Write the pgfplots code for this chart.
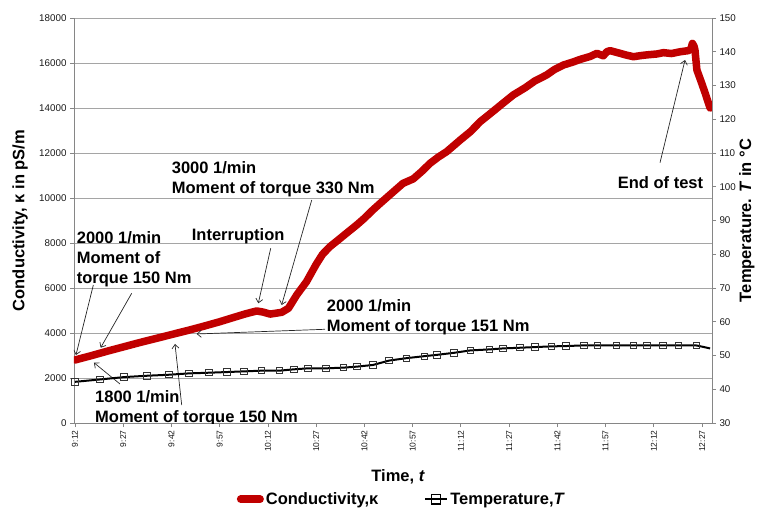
\documentclass[border=0pt]{standalone}
\usepackage{pgfplots}
\pgfplotsset{compat=1.18}
\usepackage{fontspec}
\setmainfont{Liberation Sans}
\usetikzlibrary{arrows.meta}

\definecolor{condred}{RGB}{192,0,0}
\definecolor{gridgray}{RGB}{165,165,165}
\definecolor{axisgray}{RGB}{134,134,134}

\newcommand\boldtext{\fontsize{16.5bp}{20bp}\selectfont\bfseries}
\newcommand\ticktext{\fontsize{9.8bp}{11bp}\selectfont}

\tikzset{
  annarrow/.style={draw=black!85, line width=0.7bp, -{Straight Barb[length=4bp,width=7bp]}},
  anntext/.style={anchor=north west, inner sep=0pt, align=left, font=\boldtext},
}

\pgfplotsset{
  common/.style={
    at={(0,0)}, anchor=south west,
    scale only axis, width=638bp, height=405bp,
    xmin=-0.3, xmax=198.1,
    axis line style={axisgray, line width=0.9bp},
    tick style={axisgray, line width=0.8bp},
    tick align=outside, major tick length=4bp,
    tick label style={font=\ticktext, text=black!90},
    /pgf/number format/assume math mode=true,
    /pgf/number format/1000 sep={},
    scaled y ticks=false,
  },
  redlegend/.style={legend image code/.code={\draw[##1] (3.5bp,0bp) -- (23bp,0bp);}},
  % legend sample: line with a larger open square in the middle
  templegend/.style={legend image code/.code={
      \draw[##1] (0bp,0bp) -- (22bp,0bp);
      \draw[black, line width=1.7bp] (6bp,-4.6bp) rectangle (15.2bp,4.6bp);}},
}

\begin{document}
\begin{tikzpicture}
\path[use as bounding box] (-74bp,-87bp) rectangle (683bp,423bp);

% Conductivity (left axis), time in minutes after 9:12
\begin{axis}[common,
  ymin=0, ymax=18000, ytick={0,2000,...,18000},
  axis y line*=left, axis x line*=bottom,
  ymajorgrids, grid style={gridgray, line width=0.9bp},
  xtick={0,15,...,195},
  xticklabels={9:12,9:27,9:42,9:57,10:12,10:27,10:42,10:57,11:12,11:27,11:42,11:57,12:12,12:27},
  x tick label style={rotate=90, anchor=east, font=\fontsize{8.5bp}{9bp}\selectfont},
  xlabel={Time, \textit{t}},
  xlabel style={font=\boldtext, at={(axis description cs:0.508,-0.1333)}, anchor=center},
  ylabel={Conductivity, κ in pS/m},
  ylabel style={font=\boldtext, at={(axis description cs:-0.0846,0.5)}, anchor=center},
]
\addplot[condred, line width=7.5bp, line join=round, line cap=round] table {
t      k
0      2800
5      2990
10     3190
15     3380
20     3570
25     3750
30     3930
35     4110
40     4300
45     4500
50     4720
53     4850
56.5   4980
58.5   4930
60.7   4840
62.5   4880
64.3   4920
66.4   5100
69     5700
72     6280
75     7050
77     7500
79.3   7840
82     8150
85     8500
87.6   8800
90     9100
92.5   9450
94.9   9760
98     10150
102    10650
105.2  10850
108    11200
110.4  11540
113    11820
115.6  12060
120    12600
123    12950
126    13390
130    13850
133    14200
136.3  14580
140    14900
143    15200
146.7  15470
149    15700
151.9  15910
155    16050
157.1  16160
160.2  16290
162.3  16430
164.3  16320
165.4  16500
166.4  16550
169.5  16430
171.5  16350
173.7  16280
176    16330
177.8  16360
180.9  16400
183    16460
185.5  16420
188.2  16500
190.8  16550
191.6  16650
192    16870
192.5  16750
192.8  16580
193.4  15690
194.9  15100
196    14650
197.5  14000
};

% annotations
\node[anntext] at (axis description cs:0.0042,0.4741) {2000 1/min\\Moment of\\torque 150 Nm};
\node[anntext] at (axis description cs:0.1845,0.4807) {Interruption};
\node[anntext] at (axis description cs:0.1531,0.6469) {3000 1/min\\Moment of torque 330 Nm};
\node[anntext] at (axis description cs:0.3961,0.3062) {2000 1/min\\Moment of torque 151 Nm};
\node[anntext] at (axis description cs:0.0329,0.0815) {1800 1/min\\Moment of torque 150 Nm};
\node[anntext] at (axis description cs:0.8522,0.6081) {End of test};

\draw[annarrow] (axis description cs:0.0303,0.3407) -- (axis description cs:0.0031,0.1679);
\draw[annarrow] (axis description cs:0.0904,0.3202) -- (axis description cs:0.0418,0.1859);
\draw[annarrow] (axis description cs:0.3083,0.4314) -- (axis description cs:0.2889,0.2956);
\draw[annarrow] (axis description cs:0.3726,0.5506) -- (axis description cs:0.3255,0.2914);
\draw[annarrow] (axis description cs:0.3934,0.2314) -- (axis description cs:0.1923,0.2198);
\draw[annarrow] (axis description cs:0.0721,0.0963) -- (axis description cs:0.0313,0.1489);
\draw[annarrow] (axis description cs:0.1688,0.0444) -- (axis description cs:0.1583,0.1951);
\draw[annarrow] (axis description cs:0.9185,0.6427) -- (axis description cs:0.9577,0.8963);
\end{axis}

% Temperature (right axis)
\begin{axis}[common,
  ymin=30, ymax=150, ytick={30,40,...,150},
  axis y line*=right, axis x line=none,
  ylabel={Temperature. \textit{T} in °C},
  ylabel style={font=\boldtext, at={(axis description cs:1.0545,0.5)}, anchor=center, rotate=0},
  legend columns=2,
  legend style={at={(axis description cs:0.255,-0.188)}, anchor=west,
    draw=none, fill=none, inner sep=0pt, font=\boldtext,
    /tikz/every even column/.append style={column sep=44bp}},
]
\addlegendimage{condred, line width=7.5bp, line cap=round, redlegend}
\addlegendentry{Conductivity,κ}

\addplot[black, line width=2bp, mark=square, mark size=3.2bp,
  mark options={draw=black!80, fill=none, line width=0.9bp}, templegend]
  table {
t      T
0      42.2
7.8    42.9
15.2   43.6
22.4   44.0
29.2   44.3
35.5   44.7
41.7   44.9
47.3   45.1
52.6   45.3
57.9   45.5
63.5   45.5
68.1   45.9
72.5   46.2
78.1   46.2
83.4   46.4
87.7   46.7
92.7   47.2
97.7   48.5
103.0  49.2
108.6  49.8
112.6  50.2
117.9  50.8
122.9  51.5
128.8  51.8
133.1  52.1
138.4  52.3
143.1  52.5
148.1  52.7
152.7  52.8
158.3  53.0
162.4  53.0
168.3  53.0
173.6  53.0
177.9  53.0
182.9  53.0
187.6  53.0
193.2  53.0
};
\addlegendentry{Temperature,\textit{T}}

\addplot[black, line width=2bp, forget plot] table {
t      T
193.2  53.0
197.5  52.1
};
\end{axis}
\end{tikzpicture}
\end{document}
